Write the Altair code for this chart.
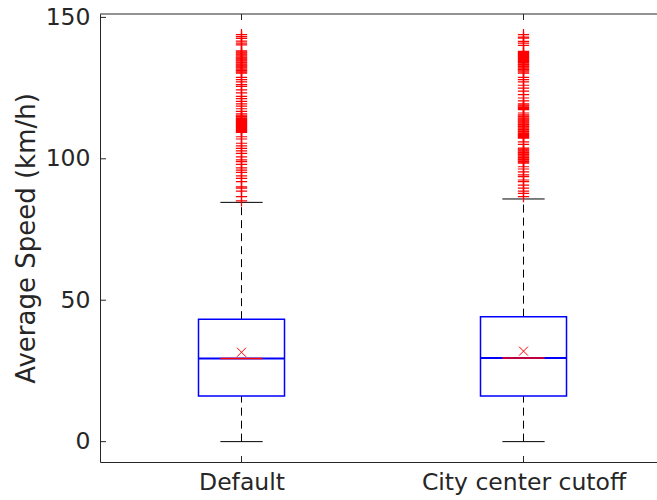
import json
import altair as alt
import pandas as pd

# ---------------- data ----------------
categories = ["Default", "City center cutoff"]
positions = [1, 2]
q1 = [16.1, 16.1]
medians = [29.4, 29.6]
q3 = [43.3, 44.2]
means = [31.6, 32.0]
whisker_low = [0.0, 0.0]
whisker_high = [84.6, 85.8]

outliers_default = [
    143.9, 143.2, 142.6, 141.6, 140.9, 140.3,
    138.2, 137.8, 137.5, 137.1, 136.8, 136.4, 136.0, 135.7, 135.3, 135.0,
    134.6, 134.2, 133.9, 133.5, 133.1, 132.8, 132.4, 132.1, 131.7, 131.3,
    131.0, 130.6, 130.3,
    128.8, 128.0, 127.2, 126.2, 125.6, 124.4, 123.3, 122.1, 121.3, 120.3,
    119.4, 118.6, 117.7, 116.8, 115.9,
    115.4, 115.0, 114.7, 114.3, 113.9, 113.6, 113.2, 112.9, 112.5, 112.1,
    111.8, 111.4, 111.1, 110.7, 110.3, 110.0, 109.6, 109.3,
    107.8, 107.0, 105.5, 104.6, 103.7, 102.8, 101.9, 100.7, 99.6, 99.0,
    98.0, 96.8, 96.0, 95.2, 94.0, 93.1, 91.9, 90.1, 89.6, 88.6, 86.6, 85.1,
]
outliers_city = [
    143.9, 143.0, 142.7, 141.5, 140.9, 140.1,
    138.0, 137.6, 137.3, 136.9, 136.5, 136.2, 135.8, 135.5, 135.1, 134.7,
    134.4, 134.0, 133.6, 133.3, 132.9, 132.6, 132.2, 131.8, 131.5, 131.1,
    130.7, 130.3,
    128.8, 128.0, 127.2, 126.0, 125.0, 123.9, 122.7, 121.5, 120.5,
    119.4, 119.0, 118.6, 118.2, 117.8, 117.4, 116.2,
    115.5, 115.1, 114.8, 114.4, 114.0, 113.7, 113.3, 113.0, 112.6, 112.2,
    111.9, 111.5, 111.2, 110.8, 110.4, 110.1, 109.7, 109.4, 109.0, 108.6,
    108.3, 107.9, 107.6, 107.3,
    106.0, 105.1,
    103.8, 103.4, 103.1, 102.7, 102.3, 102.0, 101.6, 101.3, 100.9, 100.5,
    100.2, 99.8, 99.5, 99.1, 98.8, 98.5,
    97.2, 96.4, 95.4, 94.3, 93.7, 92.5, 91.9, 90.7, 89.6, 88.6, 87.8, 86.6,
]
y_ticks = [0, 50, 100, 150]

# ---------------- tables ----------------
stats = pd.DataFrame({
    "pos": positions, "cat": categories, "q1": q1, "med": medians,
    "q3": q3, "mean": means, "lo": whisker_low, "hi": whisker_high,
})
outliers = pd.DataFrame({
    "pos": [positions[0]] * len(outliers_default) + [positions[1]] * len(outliers_city),
    "v": outliers_default + outliers_city,
})
ytick_df = pd.DataFrame({"t": y_ticks})
xtick_df = pd.DataFrame({"p": positions})
one = pd.DataFrame({"a": [0]})

# ---------------- style ----------------
TXT = "#262626"
BLUE = "#0000FF"
RED = "#FF0000"
FONT = "DejaVu Sans"
BOX_HALF = 0.1525
CAP_HALF = 0.075
W, H = 557, 448
TICK = 6

xscale = alt.Scale(domain=[0.4982, 2.4734], nice=False, zero=False)
yscale = alt.Scale(domain=[-7.2, 151.2], nice=False, zero=False)

label_expr = json.dumps(categories) + "[datum.value - 1]"

x_axis = alt.Axis(values=positions, labelExpr=label_expr, title=None, grid=False,
                  ticks=False, tickSize=0, labelPadding=8, labelLimit=0,
                  domain=True, domainColor=TXT, domainWidth=1)
y_axis = alt.Axis(values=y_ticks, title="Average Speed (km/h)", grid=False,
                  ticks=False, tickSize=0, labelPadding=10, titlePadding=6,
                  domain=True, domainColor=TXT, domainWidth=1)


def X(field):
    return alt.X(field, type="quantitative", scale=xscale, axis=x_axis)


def Y(field):
    return alt.Y(field, type="quantitative", scale=yscale, axis=y_axis)


base = alt.Chart(stats).transform_calculate(
    xl=f"datum.pos - {BOX_HALF}", xr=f"datum.pos + {BOX_HALF}",
    cl=f"datum.pos - {CAP_HALF}", cr=f"datum.pos + {CAP_HALF}",
)

# whiskers (dashed)
whisk_up = base.mark_rule(color="black", strokeWidth=1, strokeDash=[8, 5]).encode(
    x=X("pos"), y=Y("q3"), y2="hi:Q",
)
whisk_dn = base.mark_rule(color="black", strokeWidth=1, strokeDash=[8, 5]).encode(
    x=X("pos"), y=Y("lo"), y2="q1:Q",
)
cap_hi = base.mark_rule(color="black", strokeWidth=1).encode(
    x=X("cl"), x2="cr:Q", y=Y("hi"),
)
cap_lo = base.mark_rule(color="black", strokeWidth=1).encode(
    x=X("cl"), x2="cr:Q", y=Y("lo"),
)
box = base.mark_rect(fillOpacity=0, stroke=BLUE, strokeWidth=1.5).encode(
    x=X("xl"), x2="xr:Q", y=Y("q1"), y2="q3:Q",
)
med_blue = base.mark_rule(color=BLUE, strokeWidth=2).encode(
    x=X("xl"), x2="xr:Q", y=Y("med"),
)
med_red = base.mark_rule(color=RED, strokeWidth=1.5).encode(
    x=X("cl"), x2="cr:Q", y=Y("med"),
)
mean_pt = base.mark_point(shape="M-1,-1L1,1M-1,1L1,-1", filled=False, stroke=RED,
                          strokeWidth=1, size=81, opacity=1).encode(
    x=X("pos"), y=Y("mean"),
)
out_pts = alt.Chart(outliers).mark_point(shape="M-1,0L1,0M0,-1L0,1", filled=False,
                                         stroke=RED, strokeWidth=1.2, size=128,
                                         opacity=1).encode(
    x=X("pos"), y=Y("v"),
)

# frame top line and inward ticks
top_line = alt.Chart(one).mark_rule(color=TXT, strokeWidth=1).encode(
    x=alt.value(0), x2=alt.value("width"), y=alt.value(0),
)
yticks_in = alt.Chart(ytick_df).mark_rule(color=TXT, strokeWidth=1).encode(
    y=Y("t"), x=alt.value(0), x2=alt.value(TICK),
)
xticks_bot = alt.Chart(xtick_df).mark_rule(color=TXT, strokeWidth=1).encode(
    x=X("p"), y=alt.value(H), y2=alt.value(H - TICK),
)
xticks_top = alt.Chart(xtick_df).mark_rule(color=TXT, strokeWidth=1).encode(
    x=X("p"), y=alt.value(0), y2=alt.value(TICK),
)

chart = alt.layer(
    whisk_up, whisk_dn, cap_hi, cap_lo, box, med_blue, med_red, mean_pt, out_pts,
    top_line, yticks_in, xticks_bot, xticks_top,
).properties(
    width=W, height=H,
    autosize=alt.AutoSizeParams(type="none"),
    padding={"left": 100, "top": 14, "right": 0, "bottom": 38},
    background="white",
).configure_view(
    stroke="transparent",
).configure_axis(
    labelFont=FONT, labelFontSize=23.5, labelColor=TXT,
    titleFont=FONT, titleFontSize=26, titleColor=TXT, titleFontWeight="normal",
)

chart.save("out.html", embed_options={"renderer": "svg", "actions": False})
